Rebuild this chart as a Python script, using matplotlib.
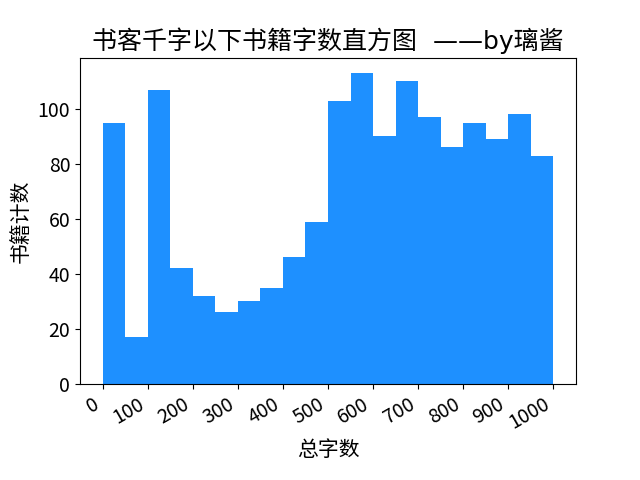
import numpy as np
import matplotlib
matplotlib.use('Agg')
import matplotlib.pyplot as plt

plt.rcParams['font.family'] = ['Noto Sans CJK SC', 'DejaVu Sans']
plt.rcParams['axes.unicode_minus'] = False

# 20 bins of 50 words each, 0..1000
bin_edges = np.arange(0, 1001, 50)
counts = [95, 17, 107, 42, 32, 26, 30, 35, 46, 59,
          103, 113, 90, 110, 97, 86, 95, 89, 98, 83]
xticks = np.arange(0, 1001, 100)

fig, ax = plt.subplots(figsize=(6.4, 4.8), dpi=100)
centers = (bin_edges[:-1] + bin_edges[1:]) / 2
ax.hist(centers, bins=bin_edges, weights=counts, color='dodgerblue')
ax.set_xticks(xticks)
ax.tick_params(labelsize=14)
ax.set_xlabel('总字数', fontsize=15)
ax.set_ylabel('书籍计数', fontsize=15)
# DejaVu first so the em dashes come out full width, CJK falls back to Noto
ax.set_title('书客千字以下书籍字数直方图  ——by璃酱', fontsize=18,
             family=['DejaVu Sans', 'Noto Sans CJK SC'])
fig.autofmt_xdate()

fig.savefig('out.png')
